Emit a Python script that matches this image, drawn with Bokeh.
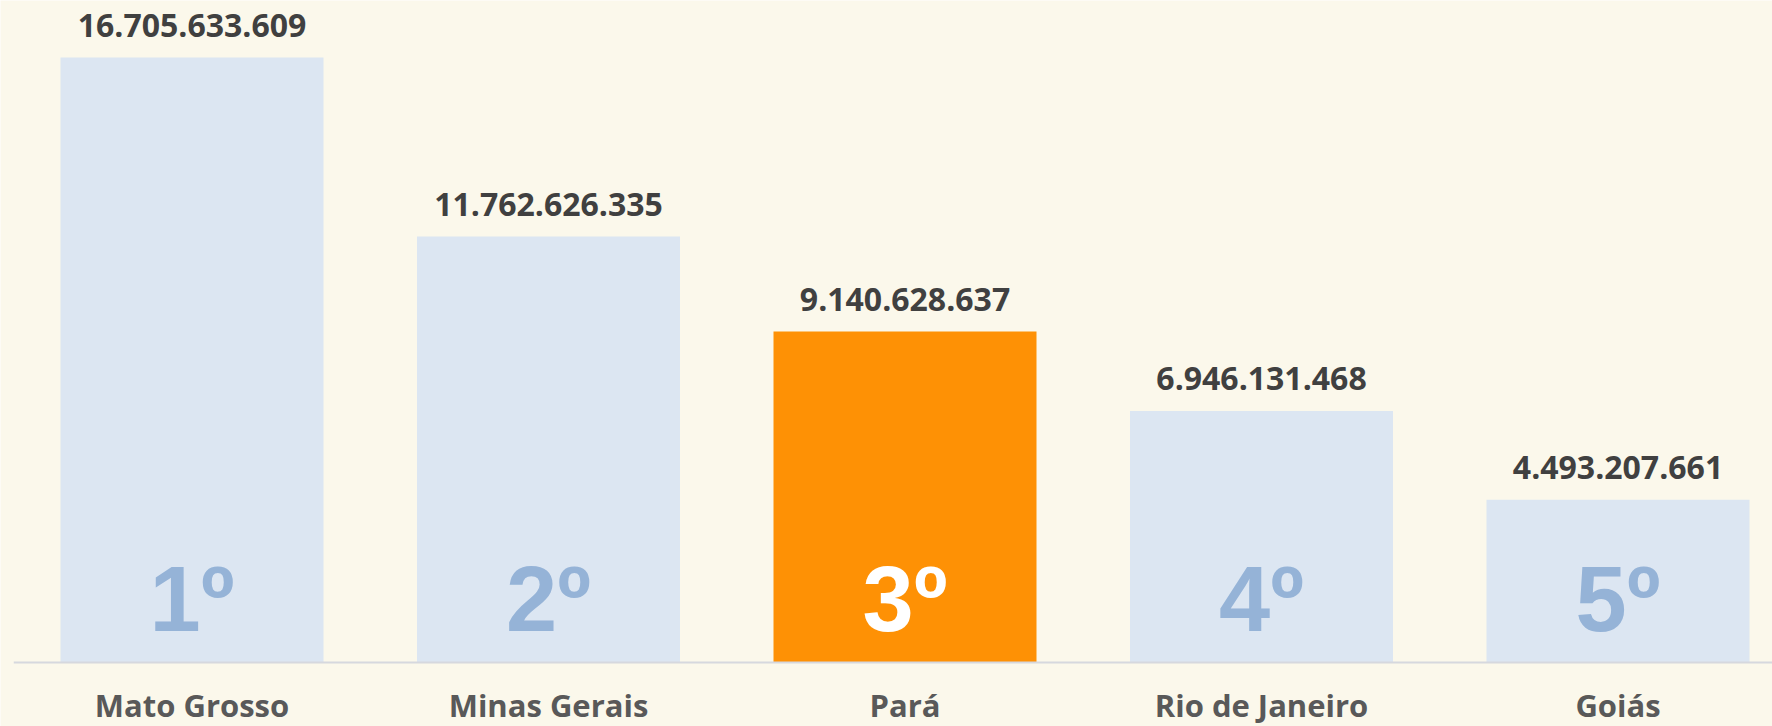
from bokeh.plotting import figure
from bokeh.models import Range1d, ColumnDataSource
from bokeh.core.properties import value
from bokeh.embed import file_html
from bokeh.resources import INLINE

# ---- data ----
states = ["Mato Grosso", "Minas Gerais", "Pará", "Rio de Janeiro", "Goiás"]
values = [16705633609, 11762626335, 9140628637, 6946131468, 4493207661]
ranks = ["1º", "2º", "3º", "4º", "5º"]
highlight = "Pará"

# ---- styling ----
W, H = 1772, 726
BG = "#fbf8eb"
BAR = "#dce6f2"
BAR_HI = "#fe9105"
RANK = "#95b3d7"
RANK_HI = "#ffffff"

idx = list(range(len(states)))
labels = [f"{v:,}".replace(",", ".") for v in values]
fills = [BAR_HI if s == highlight else BAR for s in states]
rank_colors = [RANK_HI if s == highlight else RANK for s in states]

px_per_unit = 605 / max(values)  # pixel scale
y_start = -(H - 662) / px_per_unit
y_end = 662 / px_per_unit

src = ColumnDataSource(dict(x=idx, top=values, label=labels, fill=fills,
                            rank=ranks, rank_color=rank_colors, state=states,
                            cat_y=[-(715 - 662) / px_per_unit] * len(idx),
                            rank_y=[(662 - 634) / px_per_unit] * len(idx)))

p = figure(width=W, height=H, output_backend="svg", toolbar_location=None,
           x_range=Range1d(-191.5 / 356.5, 4 + (W - 1617.5) / 356.5),
           y_range=Range1d(y_start, y_end),
           min_border=0, min_border_left=0, min_border_right=0,
           min_border_top=0, min_border_bottom=0)
p.background_fill_color = BG
p.border_fill_color = BG
p.outline_line_color = None
p.xaxis.visible = False
p.yaxis.visible = False
p.xgrid.visible = False
p.ygrid.visible = False

p.vbar(x="x", top="top", bottom=0, width=263 / 356.5, source=src,
       fill_color="fill", line_color=None)

# baseline axis line
p.segment(x0=[-0.5], y0=[0], x1=[len(states) - 0.5], y1=[0],
          line_color="#d6d8de", line_width=2)

# value labels
p.text(x="x", y="top", text="label", source=src, text_align="center",
       text_baseline="alphabetic", y_offset=-32,
       text_font=value("Open Sans"), text_font_style="bold",
       text_font_size="32px", text_color="#404040")

# rank labels inside bars
p.text(x="x", y="rank_y", text="rank", source=src, text_align="center",
       text_baseline="alphabetic", y_offset=-36,
       text_font=value("Liberation Sans"), text_font_style="bold",
       text_font_size="92px", text_color="rank_color")

# category labels
p.text(x="x", y="cat_y", text="state", source=src, text_align="center",
       text_baseline="alphabetic", y_offset=-11,
       text_font=value("Open Sans"), text_font_style="bold",
       text_font_size="31px", text_color="#595959")

open("out.html", "w").write(file_html(p, INLINE))
